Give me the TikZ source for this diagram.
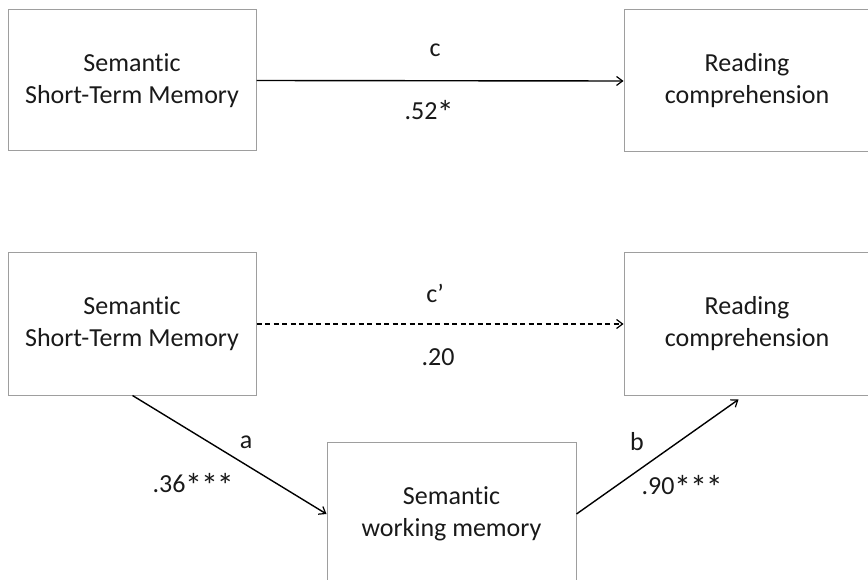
\documentclass[tikz,border=0pt]{standalone}
\usepackage{fontspec}
\setmainfont{Carlito}[RawFeature=-liga]
\usetikzlibrary{arrows.meta,calc}
\newcommand{\bigstar}{\kern-0.5pt\raisebox{-5pt}{\fontsize{34}{32}\selectfont*}\kern-0.5pt}
\begin{document}
\begin{tikzpicture}[x=1pt,y=-1pt,
  box/.style={draw=black!38,line width=1pt,rectangle,align=center,inner sep=0pt,
    font=\fontsize{26}{32}\selectfont,text=black!90},
  lbl/.style={font=\fontsize{26}{32}\selectfont,text=black!90,inner sep=0pt},
  arr/.style={line width=1.4pt,-{Straight Barb[length=6pt,width=9pt,line width=1.2pt]}}]
\useasboundingbox (0,0) rectangle (868,580);
\clip (0,0) rectangle (868,580);
\node[box,minimum width=248,minimum height=141] (tl) at (132,80.5) {Semantic\\Short-Term Memory};
\node[box,minimum width=246,minimum height=142] (tr) at (747,81) {Reading\\comprehension};
\node[box,minimum width=248,minimum height=142] (bl) at (132,324) {Semantic\\Short-Term Memory};
\node[box,minimum width=246,minimum height=142] (br) at (747,324) {Reading\\comprehension};
\node[box,minimum width=249,minimum height=144] (mid) at (451.5,514) {Semantic\\working memory};
\draw[arr] (tl.east) -- (tr.west);
\draw[arr,dash pattern=on 5pt off 3.5pt] (bl.east) -- (br.west);
\coordinate (as) at ($(bl.south west)+(125,0)$);
\coordinate (be) at ($(br.south west)+(115,4)$);
\draw[arr] (as) -- (mid.west);
\draw[arr] (mid.east) -- (be);
\node[lbl] (lc) at (435,50) {c};
\node[lbl] (l52) at (429,112) {.52\bigstar};
\node[lbl] (lcp) at (435,293) {c’};
\node[lbl] (l20) at (438,357) {.20};
\node[lbl] (la) at (246,442) {a};
\node[lbl] (l36) at (193,485) {.36\bigstar\bigstar\bigstar};
\node[lbl] (lb) at (637,442) {b};
\node[lbl] (l90) at (682,487) {.90\bigstar\bigstar\bigstar};
\end{tikzpicture}
\end{document}
